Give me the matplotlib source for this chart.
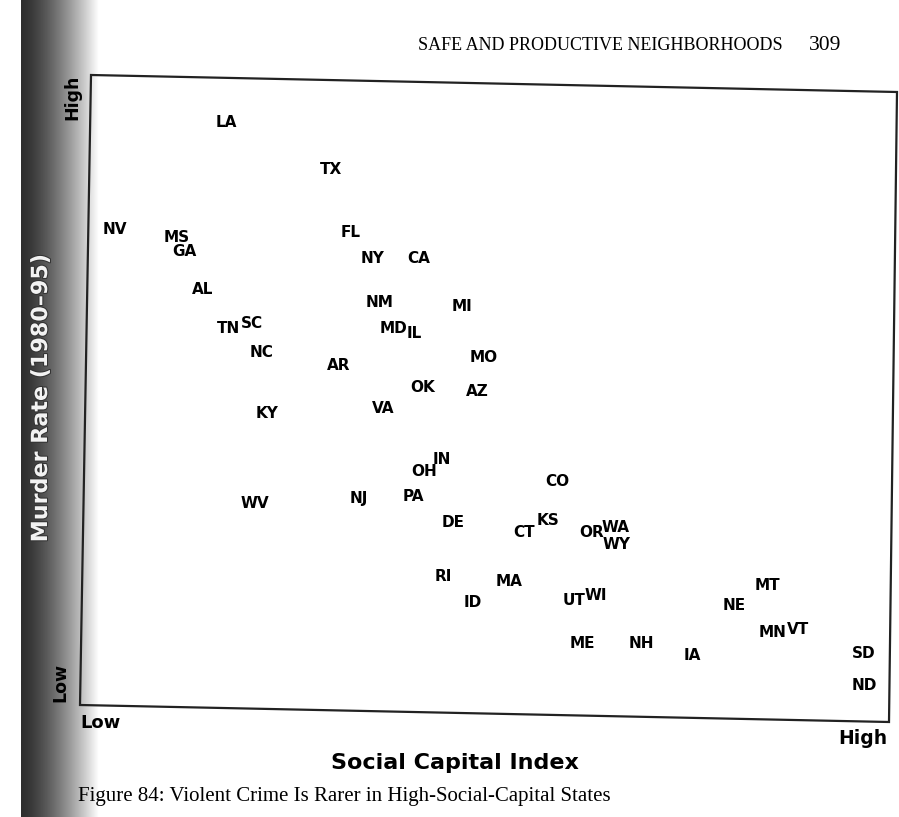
import numpy as np
import matplotlib
matplotlib.use('Agg')
import matplotlib.pyplot as plt
import matplotlib.patheffects as pe

# state codes with (social capital index, murder rate) on a 0-100 relative scale
states = ['LA', 'TX', 'NV', 'MS', 'GA', 'FL', 'NY', 'CA', 'AL', 'NM',
          'MI', 'TN', 'SC', 'MD', 'IL', 'NC', 'AR', 'MO', 'OK', 'AZ',
          'VA', 'KY', 'IN', 'OH', 'CO', 'WV', 'NJ', 'PA', 'DE', 'KS',
          'CT', 'OR', 'WA', 'WY', 'RI', 'MA', 'ID', 'UT', 'WI', 'MT',
          'NE', 'MN', 'VT', 'ME', 'NH', 'IA', 'SD', 'ND']
social_capital = [17.5, 30.4, 3.7, 11.4, 12.3, 32.9, 35.6, 41.3, 14.5, 36.4,
                  46.7, 17.8, 20.7, 38.2, 40.7, 21.9, 31.4, 49.4, 41.8, 48.5,
                  36.9, 22.5, 44.2, 42.0, 58.5, 21.0, 33.9, 40.7, 45.5, 57.3,
                  54.3, 62.7, 65.7, 65.8, 44.3, 52.5, 48.0, 60.5, 63.2, 84.5,
                  80.3, 85.1, 88.2, 61.5, 68.9, 75.2, 96.4, 96.5]
murder_rate = [93.8, 86.2, 76.8, 75.4, 73.3, 76.3, 72.2, 72.1, 67.3, 65.2,
               64.6, 61.0, 61.9, 61.1, 60.2, 57.3, 55.1, 56.5, 51.6, 51.1,
               48.4, 47.6, 40.3, 38.3, 36.7, 33.3, 34.0, 34.3, 30.2, 30.5,
               28.6, 28.6, 29.5, 26.8, 21.7, 20.8, 17.6, 17.8, 18.7, 20.3,
               17.1, 12.7, 13.3, 11.0, 11.1, 9.2, 9.5, 4.4]

fig = plt.figure(figsize=(8.99, 8.17), dpi=100)
W, H = 899, 817

# scanned page gutter shading on the left
band = fig.add_axes([21 / W, 0, 78 / W, 1])
t = np.linspace(0, 1, 200)
shade = 0.18 + 0.82 * t ** 1.4
band.imshow(shade[np.newaxis, :], cmap='gray', vmin=0, vmax=1,
            aspect='auto', extent=[0, 1, 0, 1])
band.axis('off')

ax = fig.add_axes([85 / W, 1 - 713 / H, 808 / W, 630 / H])
ax.set_xlim(0, 100)
ax.set_ylim(0, 100)
ax.set_xticks([])
ax.set_yticks([])
ax.patch.set_alpha(0)
for sp in ax.spines.values():
    sp.set_visible(False)

# the printed frame sits slightly tilted on the scanned page
frame_px = [(91, 75), (897, 92), (889, 722), (80, 705)]
frame = plt.Polygon([(px / W, 1 - py / H) for px, py in frame_px], closed=True,
                    fill=False, edgecolor='#222222', linewidth=1.6,
                    transform=fig.transFigure)
fig.add_artist(frame)

for st, x, y in zip(states, social_capital, murder_rate):
    ax.text(x, y, st, ha='center', va='center', fontsize=11,
            fontweight='heavy', family='DejaVu Sans', color='black')

# axis annotations
fig.text(100 / W, 1 - 723 / H, 'Low', ha='center', va='center',
         fontsize=13, fontweight='bold', family='DejaVu Sans')
fig.text(863 / W, 1 - 739 / H, 'High', ha='center', va='center',
         fontsize=13.5, fontweight='bold', family='DejaVu Sans')
fig.text(455 / W, 1 - 763 / H, 'Social Capital Index', ha='center', va='center',
         fontsize=16, fontweight='bold', family='DejaVu Sans')
fig.text(72 / W, 1 - 97 / H, 'High', ha='center', va='center', rotation=90,
         fontsize=12.5, fontweight='bold', family='DejaVu Sans')
fig.text(60 / W, 1 - 683 / H, 'Low', ha='center', va='center', rotation=90,
         fontsize=12.5, fontweight='bold', family='DejaVu Sans')
fig.text(41 / W, 1 - 398 / H, 'Murder Rate (1980\u201395)', ha='center', va='center',
         rotation=90, fontsize=16, fontweight='bold', family='DejaVu Sans',
         color='#f2f2f2',
         path_effects=[pe.withStroke(linewidth=1.5, foreground='#333333')])

# page header and caption
fig.text(783 / W, 1 - 45 / H, 'SAFE AND PRODUCTIVE NEIGHBORHOODS', ha='right',
         va='center', fontsize=13, family='Liberation Serif')
fig.text(825 / W, 1 - 45 / H, '309', ha='center', va='center',
         fontsize=15.5, family='Liberation Serif')
fig.text(78 / W, 1 - 797 / H,
         'Figure 84: Violent Crime Is Rarer in High-Social-Capital States',
         ha='left', va='center', fontsize=15, family='Liberation Serif')

fig.savefig('out.png', dpi=100)
